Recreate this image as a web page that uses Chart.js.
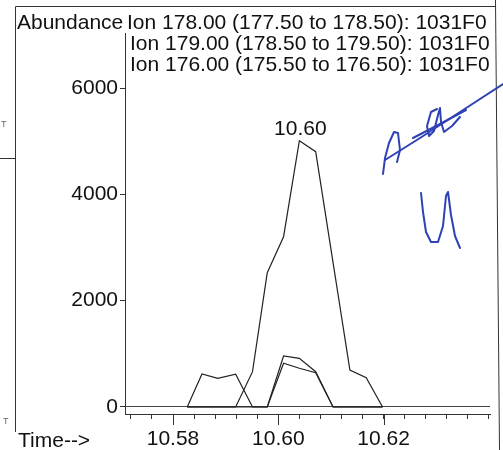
<!DOCTYPE html>
<html>
<head>
<meta charset="utf-8">
<script src="https://cdn.jsdelivr.net/npm/chart.js@4.4.1/dist/chart.umd.min.js"></script>
<style>
html, body { margin: 0; padding: 0; background: #fff; }
#wrap { width: 503px; height: 450px; position: relative; }
</style>
</head>
<body>
<div id="wrap"><canvas id="chart" width="503" height="450"></canvas></div>
<script>
const times  = [10.5827, 10.5855, 10.5885, 10.5919, 10.5951, 10.5979, 10.6010, 10.6040, 10.6071, 10.6104, 10.6136, 10.6167, 10.6198];
const ion178 = [0, 0, 0, 0, 664, 2526, 3203, 5009, 4802, 2714, 696, 551, 0];
const ion179 = [0, 0, 0, 0, 0, 0, 959, 916, 664, 0, 0, 0, 0];
const ion176 = [0, 621, 540, 615, 0, 0, 822, 728, 645, 0, 0, 0, 0];

const yTicks = [0, 2000, 4000, 6000];
const xTicks = [10.572, 10.576, 10.580, 10.584, 10.588, 10.592, 10.596, 10.600, 10.604,
                10.608, 10.612, 10.616, 10.620, 10.624, 10.628, 10.632, 10.636, 10.640];
const xLabels = [10.58, 10.60, 10.62];

const headerLines = [
    'Ion 178.00 (177.50 to 178.50): 1031F0',
    'Ion 179.00 (178.50 to 179.50): 1031F0',
    'Ion 176.00 (175.50 to 176.50): 1031F0'
];
const peakLabel = '10.60';

const FONT = "'Liberation Sans', Arial, sans-serif";
const INK = '#222';

function pts(vals) {
    return times.map((t, i) => ({ x: t, y: vals[i] }));
}

function stroke(ctx, p) {
    ctx.beginPath();
    ctx.moveTo(p[0][0], p[0][1]);
    for (let i = 1; i < p.length; i++) ctx.lineTo(p[i][0], p[i][1]);
    ctx.stroke();
}

const decor = {
    id: 'decor',
    afterDraw(chart) {
        const ctx = chart.ctx;
        const xs = chart.scales.x;
        ctx.save();

        // cadre du scan
        ctx.strokeStyle = '#333';
        ctx.lineWidth = 1;
        stroke(ctx, [[15.5, 432], [15.5, 6.5], [496, 6.5]]);
        stroke(ctx, [[495.5, 0], [499.5, 450]]);
        stroke(ctx, [[0, 158.5], [15.5, 158.5]]);
        ctx.fillStyle = '#666';
        ctx.font = '9px ' + FONT;
        ctx.fillText('T', 1, 127);
        ctx.fillText('T', 3, 424);

        // en-tête
        ctx.fillStyle = '#111';
        ctx.font = '21px ' + FONT;
        ctx.textBaseline = 'alphabetic';
        ctx.fillText('Abundance', 17, 29);
        ctx.fillText(headerLines[0], 127, 29);
        ctx.fillText(headerLines[1], 130, 50);
        ctx.fillText(headerLines[2], 130, 71);
        ctx.fillText('Time-->', 18, 447);

        // étiquette du pic
        const meta = chart.getDatasetMeta(0);
        let imax = 0;
        ion178.forEach((v, i) => { if (v > ion178[imax]) imax = i; });
        const p = meta.data[imax];
        ctx.textAlign = 'center';
        ctx.fillText(peakLabel, p.x + 1, p.y - 6);

        // graduations majeures plus longues
        ctx.strokeStyle = '#333';
        xLabels.forEach(v => {
            const px = Math.round(xs.getPixelForValue(v)) + 0.5;
            stroke(ctx, [[px, xs.top], [px, xs.top + 11]]);
        });

        // annotations manuscrites
        ctx.strokeStyle = '#2f42b4';
        ctx.lineWidth = 2;
        ctx.lineJoin = 'round';
        ctx.lineCap = 'round';
        stroke(ctx, [[385, 160], [420, 138], [460, 112], [503, 84]]);
        stroke(ctx, [[383, 174], [385, 158], [389, 143], [394, 132], [398, 133], [400, 150], [397, 162]]);
        stroke(ctx, [[413, 138], [440, 124], [466, 110]]);
        stroke(ctx, [[437, 109], [431, 112], [427, 126], [429, 136], [434, 131], [438, 115], [440, 108], [441, 122], [444, 132], [452, 126], [460, 117]]);
        stroke(ctx, [[421, 193], [423, 212], [426, 232], [431, 242], [438, 242], [443, 226], [446, 196], [448, 192], [451, 215], [455, 236], [460, 248]]);

        ctx.restore();
    }
};

new Chart(document.getElementById('chart'), {
    type: 'line',
    data: {
        datasets: [
            { label: 'Ion 178.00', data: pts(ion178) },
            { label: 'Ion 179.00', data: pts(ion179) },
            { label: 'Ion 176.00', data: pts(ion176) }
        ].map(d => Object.assign(d, {
            borderColor: INK,
            borderWidth: 1.2,
            pointRadius: 0,
            tension: 0,
            fill: false
        }))
    },
    options: {
        responsive: false,
        animation: false,
        layout: { padding: { left: 0, right: 13, top: 33, bottom: 0 } },
        plugins: { legend: { display: false }, tooltip: { enabled: false } },
        scales: {
            x: {
                type: 'linear',
                min: 10.57088,
                max: 10.64021,
                afterBuildTicks: s => { s.ticks = xTicks.map(v => ({ value: v })); },
                afterFit: s => { s.height = 36; },
                ticks: {
                    autoSkip: false,
                    maxRotation: 0,
                    padding: 8,
                    color: '#111',
                    font: { family: FONT, size: 21 },
                    callback: v => xLabels.some(l => Math.abs(l - v) < 1e-6) ? v.toFixed(2) : ''
                },
                grid: { drawOnChartArea: false, tickLength: 5, tickColor: '#333' },
                border: { color: '#333', width: 1 }
            },
            y: {
                min: -132,
                max: 7035,
                afterBuildTicks: s => { s.ticks = yTicks.map(v => ({ value: v })); },
                afterFit: s => { s.width = 125; },
                ticks: {
                    padding: 2,
                    color: '#111',
                    font: { family: FONT, size: 21 },
                    callback: v => String(v)
                },
                grid: {
                    color: c => c.tick && c.tick.value === 0 ? '#444' : 'rgba(0,0,0,0)',
                    tickColor: '#333',
                    tickLength: 5
                },
                border: { color: '#333', width: 1 }
            }
        }
    },
    plugins: [decor]
});
</script>
</body>
</html>
